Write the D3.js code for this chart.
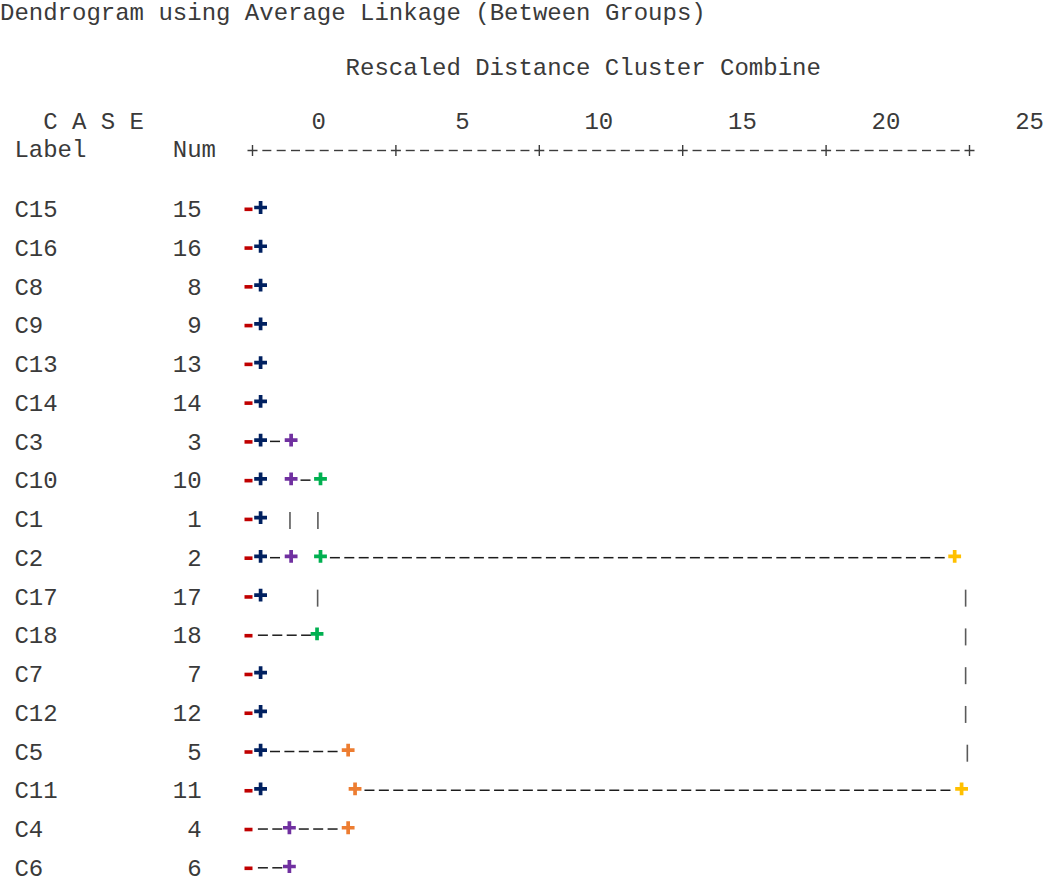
<!DOCTYPE html>
<html>
<head>
<meta charset="utf-8">
<script src="https://cdn.jsdelivr.net/npm/d3@7"></script>
<style>
  html, body { margin: 0; padding: 0; background: #ffffff; }
  svg { display: block; }
</style>
</head>
<body>
<svg id="chart" width="1045" height="884"></svg>
<script>
// ---------------- DATA ----------------
const titleText   = "Dendrogram using Average Linkage (Between Groups)";
const axisTitle   = "Rescaled Distance Cluster Combine";
const caseHeader  = "C A S E";
const labelHeader = "Label";
const numHeader   = "Num";

const tickValues = [0, 5, 10, 15, 20, 25];
const tickLabels = ["0", "5", "10", "15", "20", "25"];

const caseLabels = ["C15","C16","C8","C9","C13","C14","C3","C10","C1","C2","C17","C18","C7","C12","C5","C11","C4","C6"];
const caseNums   = [15, 16, 8, 9, 13, 14, 3, 10, 1, 2, 17, 18, 7, 12, 5, 11, 4, 6];

// join markers "+" : [rowIndex, rescaled distance]
const blueJoins   = [[0,0.42],[1,0.42],[2,0.42],[3,0.42],[4,0.42],[5,0.42],[6,0.42],[7,0.42],[8,0.42],[9,0.42],[10,0.42],[12,0.42],[13,0.42],[14,0.42],[15,0.42]];
const purpleJoins = [[6,1.48],[7,1.48],[9,1.48],[16,1.42],[17,1.42]];
const greenJoins  = [[7,2.5],[9,2.5],[11,2.38]];
const orangeJoins = [[14,3.46],[15,3.7],[16,3.46]];
const yellowJoins = [[9,24.52],[15,24.76]];

// horizontal dashed links : [rowIndex, from distance, to distance]
const links = [
  [6, 0.42, 1.48],
  [7, 1.48, 2.5],
  [9, 0.42, 1.48],
  [9, 2.5, 24.52],
  [11, 0, 2.38],
  [14, 0.42, 3.46],
  [15, 3.7, 24.76],
  [16, 0, 1.42],
  [16, 1.42, 3.46],
  [17, 0, 1.42]
];

// vertical "|" connectors : [rowIndex, distance]
const bars = [[8,1.44],[8,2.41],[10,2.4],[10,24.9],[11,24.9],[12,24.9],[13,24.9],[14,24.96]];

// ---------------- STYLE ----------------
const colors = { red: "#C00000", blue: "#002060", purple: "#7030A0", green: "#00B050", orange: "#ED7D31", yellow: "#FFC000" };
const textColor = "#3a3a3a";
const font = "'Liberation Mono', 'Courier New', monospace";
const fontSize = 24;
const charW = 14.4;

// ---------------- SCALES ----------------
const x      = d3.scaleLinear().domain([0, 25]).range([248.5, 968.5]);   // tree marks
const xAxis  = d3.scaleLinear().domain([0, 25]).range([252.5, 969.5]);   // "+----+" ruler
const xTick  = d3.scaleLinear().domain([0, 25]).range([326, 1044]);      // tick label right edges
const y      = d3.scalePoint().domain(d3.range(caseLabels.length)).range([210, 869]);

const svg = d3.select("#chart");
svg.append("rect").attr("width", 1045).attr("height", 884).attr("fill", "#fff");

function txt(g, s, px, py, anchor) {
  return g.append("text")
    .attr("x", px).attr("y", py)
    .attr("text-anchor", anchor || "start")
    .attr("font-family", font).attr("font-size", fontSize)
    .attr("fill", textColor)
    .attr("xml:space", "preserve")
    .text(s);
}

// ---------------- HEADER ----------------
const head = svg.append("g");
txt(head, titleText, 0, 20);
txt(head, axisTitle, 24 * charW, 75);
txt(head, caseHeader, 3 * charW, 129);
txt(head, labelHeader, 1 * charW, 157);
txt(head, numHeader, 12 * charW, 157);

// tick labels
head.selectAll("text.tick").data(tickValues).enter().append("text")
  .attr("class", "tick")
  .attr("x", d => xTick(d)).attr("y", 129)
  .attr("text-anchor", "end")
  .attr("font-family", font).attr("font-size", fontSize)
  .attr("fill", textColor)
  .text((d, i) => tickLabels[i]);

// ruler "+---------+"
const axisY = 150;
const ruler = svg.append("g").attr("stroke", "#3c3c3c").attr("stroke-width", 1.4);
const rulerDashes = d3.range(0, 25.01, 0.5).filter(v => tickValues.indexOf(v) < 0);
ruler.selectAll("line.rd").data(rulerDashes).enter().append("line")
  .attr("x1", d => xAxis(d) - 4.5).attr("x2", d => xAxis(d) + 4.5)
  .attr("y1", axisY + 0.5).attr("y2", axisY + 0.5);
ruler.selectAll("path.rp").data(tickValues).enter().append("path")
  .attr("fill", "none")
  .attr("d", d => `M${xAxis(d) - 5},${axisY + 0.5} H${xAxis(d) + 5} M${xAxis(d)},${axisY - 5} V${axisY + 6}`);

// ---------------- ROWS: labels & numbers ----------------
const rows = svg.append("g");
rows.selectAll("text.lab").data(caseLabels).enter().append("text")
  .attr("class", "lab")
  .attr("x", charW).attr("y", (d, i) => y(i) + 7)
  .attr("font-family", font).attr("font-size", fontSize).attr("fill", textColor)
  .text(d => d);
rows.selectAll("text.num").data(caseNums).enter().append("text")
  .attr("class", "num")
  .attr("x", 14 * charW).attr("y", (d, i) => y(i) + 7)
  .attr("text-anchor", "end")
  .attr("font-family", font).attr("font-size", fontSize).attr("fill", textColor)
  .text(d => d);

// ---------------- TREE ----------------
const tree = svg.append("g");

// dashed links (one dash per half-unit column)
const dashPts = [];
links.forEach(([r, a, b]) => {
  for (let v = a + 0.5; v < b - 0.25; v += 0.5) dashPts.push([r, v]);
});
tree.selectAll("line.dash").data(dashPts).enter().append("line")
  .attr("x1", d => x(d[1]) - 5).attr("x2", d => x(d[1]) + 5)
  .attr("y1", d => y(d[0]) - 1.2).attr("y2", d => y(d[0]) - 1.2)
  .attr("stroke", "#1c1c1c").attr("stroke-width", 1.5);

// vertical bars
tree.selectAll("line.bar").data(bars).enter().append("line")
  .attr("x1", d => x(d[1])).attr("x2", d => x(d[1]))
  .attr("y1", d => y(d[0]) - 8).attr("y2", d => y(d[0]) + 9)
  .attr("stroke", "#5a5a5a").attr("stroke-width", 1.6);

// red leaf stubs
tree.selectAll("rect.stub").data(caseLabels).enter().append("rect")
  .attr("x", x(0) - 4).attr("y", (d, i) => y(i) - 2.5)
  .attr("width", 8).attr("height", 3.6)
  .attr("fill", colors.red);

// join "+" markers
function plus(data, color, cls) {
  tree.selectAll("path." + cls).data(data).enter().append("path")
    .attr("class", cls)
    .attr("fill", "none").attr("stroke", color).attr("stroke-width", 3.7)
    .attr("d", d => {
      const cx = x(d[1]), cy = y(d[0]) - 2.5;
      return `M${cx - 6.4},${cy} H${cx + 6.4} M${cx},${cy - 6.4} V${cy + 6.4}`;
    });
}
plus(blueJoins, colors.blue, "pb");
plus(purpleJoins, colors.purple, "pp");
plus(greenJoins, colors.green, "pg");
plus(orangeJoins, colors.orange, "po");
plus(yellowJoins, colors.yellow, "py");
</script>
</body>
</html>
